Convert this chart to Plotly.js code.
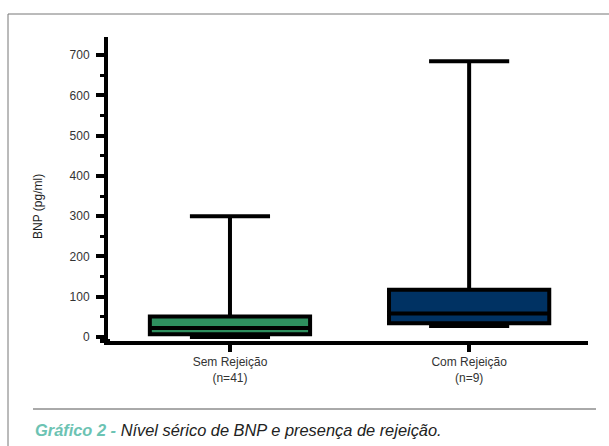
<!DOCTYPE html>
<html>
<head>
<meta charset="utf-8">
<script src="https://cdn.plot.ly/plotly-3.0.1.min.js"></script>
<style>html,body{margin:0;padding:0;background:#fff;}#chart{width:609px;height:446px;}</style>
</head>
<body>
<div id="chart"></div>
<script>
// Data (BNP pg/ml)
const categories = ["Sem Rejeição<br>(n=41)", "Com Rejeição<br>(n=9)"];
const lowerFence = [0, 27];
const q1 = [7, 34];
const median = [22, 58];
const q3 = [51, 117];
const upperFence = [300, 685];
const fillColors = ["#2e8f5e", "#003263"];
const yTicks = [0, 100, 200, 300, 400, 500, 600, 700];

const W = 609, H = 446;
const L = 108, R = 588, T = 37, B = 341;
const px = x => (x - L) / (R - L);
const py = y => (B - y) / (B - T);

const traces = categories.map((c, i) => ({
  type: "box",
  x: [c],
  q1: [q1[i]],
  median: [median[i]],
  q3: [q3[i]],
  lowerfence: [lowerFence[i]],
  upperfence: [upperFence[i]],
  fillcolor: fillColors[i],
  line: {color: "#000", width: 4},
  whiskerwidth: 0.5,
  width: 0.67,
  boxpoints: false,
  hoverinfo: "skip",
  showlegend: false
}));

const font = "'Liberation Sans Narrow', 'Liberation Sans', Arial, sans-serif";

const layout = {
  width: W, height: H,
  margin: {l: L, r: W - R, t: T, b: H - B, pad: 0},
  paper_bgcolor: "#fff",
  plot_bgcolor: "#fff",
  showlegend: false,
  xaxis: {
    type: "category",
    range: [-0.51, 1.497],
    showline: true, linecolor: "#000", linewidth: 4,
    ticks: "outside", ticklen: 7, tickwidth: 4, tickcolor: "#000",
    showgrid: false, zeroline: false,
    tickfont: {family: font, size: 12, color: "#333"},
    fixedrange: true
  },
  yaxis: {
    range: [-10, 745],
    tickvals: yTicks,
    ticktext: yTicks.map(String),
    showline: true, linecolor: "#000", linewidth: 4,
    ticks: "outside", ticklen: 8, tickwidth: 4, tickcolor: "#000",
    minor: {dtick: 50, tick0: 0, ticks: "outside", ticklen: 4, tickwidth: 3, tickcolor: "#000", showgrid: false},
    showgrid: false, zeroline: false,
    ticklabelstandoff: 4,
    tickfont: {family: font, size: 12, color: "#333"},
    fixedrange: true
  },
  shapes: [
    {type: "line", xref: "paper", yref: "paper", x0: px(100), x1: px(110), y0: 0, y1: 0, line: {color: "#000", width: 4}},
    {type: "line", xref: "paper", yref: "paper", x0: px(8), x1: px(612), y0: py(14), y1: py(14), line: {color: "#777", width: 1}},
    {type: "line", xref: "paper", yref: "paper", x0: px(8), x1: px(8), y0: py(14), y1: py(450), line: {color: "#777", width: 1}},
    {type: "line", xref: "paper", yref: "paper", x0: px(33), x1: px(596), y0: py(409), y1: py(409), line: {color: "#555", width: 1}}
  ],
  annotations: [
    {text: "BNP (pg/ml)", xref: "paper", yref: "paper", x: px(38), y: py(207), textangle: -90,
     showarrow: false, font: {family: font, size: 12, color: "#222"}, xanchor: "center", yanchor: "middle"},
    {text: "<b><i><span style='color:#6cc3b3'>Gráfico 2 - </span></i></b><i>Nível sérico de BNP e presença de rejeição.</i>",
     xref: "paper", yref: "paper", x: px(33), y: py(430), xanchor: "left", yanchor: "middle",
     showarrow: false, font: {family: font, size: 16.4, color: "#222"}}
  ]
};

Plotly.newPlot("chart", traces, layout, {displayModeBar: false, staticPlot: true});
</script>
</body>
</html>
